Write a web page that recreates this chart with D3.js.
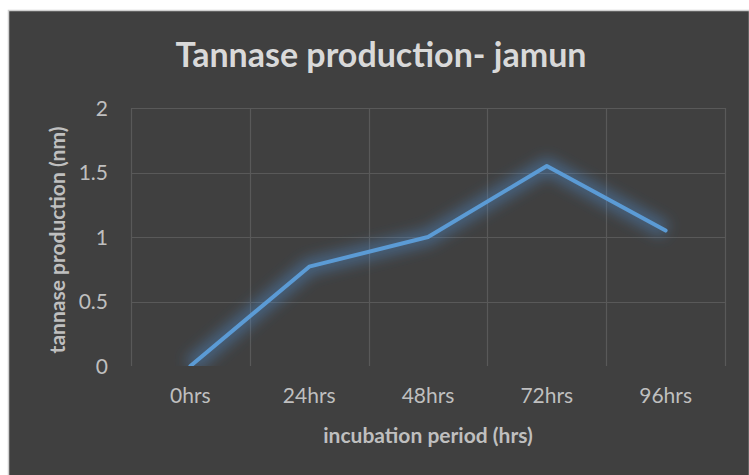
<!DOCTYPE html>
<html>
<head>
<meta charset="utf-8">
<script src="https://cdn.jsdelivr.net/npm/d3@7"></script>
<style>
  body { margin: 0; background: #fff; }
  svg { display: block; }
</style>
</head>
<body>
<svg></svg>
<script>
var categories = ["0hrs", "24hrs", "48hrs", "72hrs", "96hrs"];
var values = [0, 0.77, 1.0, 1.55, 1.05];
var yTicks = [0, 0.5, 1, 1.5, 2];

var width = 749, height = 475;

var svg = d3.select("svg")
  .attr("width", width)
  .attr("height", height);

var padding = { left: 131, right: 24, top: 108, bottom: 109 };

// chart background
svg.append("rect")
  .attr("x", 8.5).attr("y", 10.5)
  .attr("width", width - 8).attr("height", height)
  .attr("fill", "#404040")
  .attr("stroke", "#d0d0d0")
  .attr("stroke-width", 1.5);

var xScale = d3.scaleBand()
  .domain(categories)
  .range([padding.left, width - padding.right]);

var yScale = d3.scaleLinear()
  .domain([0, 2])
  .range([height - padding.bottom, padding.top]);

var defs = svg.append("defs");
var glow = defs.append("filter").attr("id", "glow")
  .attr("x", "-20%").attr("y", "-30%").attr("width", "140%").attr("height", "160%");
glow.append("feGaussianBlur").attr("stdDeviation", 7);

defs.append("clipPath").attr("id", "plotclip")
  .append("rect")
  .attr("x", padding.left).attr("y", padding.top - 40)
  .attr("width", width - padding.left - padding.right + 20)
  .attr("height", height - padding.bottom - padding.top + 40);

// horizontal gridlines
svg.append("g").selectAll("line")
  .data(yTicks)
  .enter().append("line")
  .attr("x1", padding.left).attr("x2", width - padding.right)
  .attr("y1", function(d){ return Math.round(yScale(d)) + 0.5; })
  .attr("y2", function(d){ return Math.round(yScale(d)) + 0.5; })
  .attr("stroke", function(d){ return d === 0 ? "none" : "#595959"; })
  .attr("stroke-width", 1.2);

// vertical gridlines at band edges
var edges = categories.map(function(c){ return xScale(c); }).concat([width - padding.right]);
svg.append("g").selectAll("line")
  .data(edges)
  .enter().append("line")
  .attr("x1", function(d){ return Math.round(d) + 0.5; })
  .attr("x2", function(d){ return Math.round(d) + 0.5; })
  .attr("y1", yScale(2)).attr("y2", yScale(0))
  .attr("stroke", "#595959")
  .attr("stroke-width", 1.2);

var line = d3.line()
  .x(function(d, i){ return xScale(categories[i]) + xScale.bandwidth() / 2; })
  .y(function(d){ return yScale(d); });

var g = svg.append("g").attr("clip-path", "url(#plotclip)");
g.append("path")
  .datum(values)
  .attr("d", line)
  .attr("fill", "none")
  .attr("stroke", "#4f8fd0")
  .attr("stroke-opacity", 0.45)
  .attr("stroke-width", 16)
  .attr("stroke-linejoin", "round")
  .attr("filter", "url(#glow)");

g.append("path")
  .datum(values)
  .attr("d", line)
  .attr("fill", "none")
  .attr("stroke", "#5b9bd5")
  .attr("stroke-width", 4)
  .attr("stroke-linejoin", "round")
  .attr("stroke-linecap", "round");

// axes
var xAxis = d3.axisBottom(xScale).tickSize(0).tickPadding(22);
var yAxis = d3.axisLeft(yScale).tickValues(yTicks).tickSize(0).tickPadding(23)
  .tickFormat(function(d){ return d; });

var xg = svg.append("g")
  .attr("transform", "translate(0," + (height - padding.bottom) + ")")
  .call(xAxis);
var yg = svg.append("g")
  .attr("transform", "translate(" + padding.left + ",0)")
  .call(yAxis);

[xg, yg].forEach(function(a){
  a.select(".domain").remove();
  a.selectAll("text")
    .attr("fill", "#bfbfbf")
    .attr("font-family", "Lato, 'Open Sans', sans-serif")
    .attr("font-size", 21);
});
yg.selectAll("text").attr("dy", "0.35em");

// titles
svg.append("text")
  .attr("x", 381).attr("y", 67)
  .attr("text-anchor", "middle")
  .attr("fill", "#d9d9d9")
  .attr("font-family", "Lato, 'Open Sans', sans-serif")
  .attr("font-weight", "bold")
  .attr("font-size", 34)
  .text("Tannase production- jamun");

svg.append("text")
  .attr("x", 428).attr("y", 443)
  .attr("text-anchor", "middle")
  .attr("fill", "#bfbfbf")
  .attr("font-family", "Lato, 'Open Sans', sans-serif")
  .attr("font-weight", "bold")
  .attr("font-size", 21)
  .text("incubation period (hrs)");

svg.append("text")
  .attr("transform", "translate(65," + 240 + ") rotate(-90)")
  .attr("text-anchor", "middle")
  .attr("fill", "#bfbfbf")
  .attr("font-family", "Lato, 'Open Sans', sans-serif")
  .attr("font-weight", "bold")
  .attr("font-size", 21)
  .text("tannase production (nm)");
</script>
</body>
</html>
